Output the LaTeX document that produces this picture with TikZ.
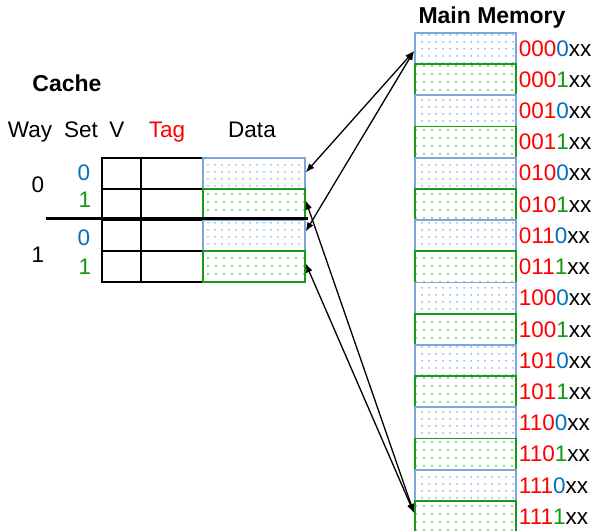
\documentclass[tikz,border=0pt]{standalone}
\usepackage{fontspec}
\setmainfont{Liberation Sans}
\usetikzlibrary{patterns.meta,arrows.meta}
\definecolor{mblue}{HTML}{7EA6D8}
\definecolor{dblue}{HTML}{4F8FD0}
\definecolor{mgreen}{HTML}{1A9A1A}
\definecolor{dgreen}{HTML}{22AA22}
\definecolor{tblue}{HTML}{0070C0}
\definecolor{tgreen}{HTML}{119911}
\definecolor{tred}{HTML}{FF0000}
\begin{document}
\begin{tikzpicture}[x=1pt,y=-1pt,
  every node/.style={font=\fontsize{22.5}{26}\selectfont},
  cellbase/.style={line width=1.7pt, inner sep=0pt, anchor=north west, minimum height=31.2pt},
  bluecell/.style={cellbase, draw=mblue, pattern={Dots[distance=6.5pt,radius=0.85pt]}, pattern color=dblue, minimum width=101pt},
  greencell/.style={cellbase, draw=mgreen, pattern={Dots[distance=8pt,radius=0.85pt]}, pattern color=dgreen, minimum width=101pt},
  gridcell/.style={draw=black, line width=1.5pt, inner sep=0pt, anchor=north west, minimum height=31pt},
  memlabel/.style={anchor=west, inner sep=0pt},
  hdr/.style={inner sep=0pt, anchor=center},
  hbase/.style={inner sep=0pt, anchor=base},
  title/.style={inner sep=0pt, anchor=center, font=\fontsize{23}{27}\selectfont\bfseries},
  arr/.style={{Latex[length=9pt,width=7pt]}-{Latex[length=9pt,width=7pt]}, line width=1.3pt}
]
\useasboundingbox (0,0) rectangle (594,530);

% titles
\node[title] (cachetitle) at (67,83) {Cache};
\node[title] (memtitle) at (492,18) {Main Memory};

% header
\node[hbase] (hway) at (30,137) {Way};
\node[hbase] (hset) at (81,137) {Set};
\node[hbase] (hv) at (117,137) {V};
\node[hbase, text=tred] (htag) at (167,137) {Tag};
\node[hbase] (hdata) at (252,137) {Data};

% way / set labels
\node[hdr] (w0) at (38,185) {0};
\node[hdr] (w1) at (38,255) {1};
\node[hdr, text=tblue] (s00) at (84,173) {0};
\node[hdr, text=tgreen] (s01) at (85,200) {1};
\node[hdr, text=tblue] (s10) at (84,238) {0};
\node[hdr, text=tgreen] (s11) at (85,267) {1};

% cache grid
\foreach \i/\y in {0/157,1/188,2/219,3/250}{
  \node[gridcell, minimum width=39pt] (v\i) at (101,\y) {};
  \node[gridcell, minimum width=62pt] (t\i) at (140,\y) {};
}
\node[bluecell, minimum width=102pt] (d0) at (202,157) {};
\node[greencell, minimum width=102pt] (d1) at (202,188) {};
\node[bluecell, minimum width=102pt] (d2) at (202,219) {};
\node[greencell, minimum width=102pt] (d3) at (202,250) {};

% way separator
\coordinate (sepL) at (46,218);
\coordinate (sepR) at (308,218);
\draw[line width=3pt] (sepL) -- (sepR);

% main memory
\foreach \i in {0,...,14}{
  \pgfmathsetmacro{\yy}{32+31.2*\i}
  \pgfmathtruncatemacro{\odd}{mod(\i,2)}
  \ifnum\odd=0
    \node[bluecell] (m\i) at (414,\yy) {};
  \else
    \node[greencell] (m\i) at (414,\yy) {};
  \fi
}
\node[greencell, minimum height=36pt] (m15) at (414,500) {};
\newcommand{\ml}[3]{\node[memlabel] (l#1) at ([xshift=2pt]m#1.east) {\textcolor{tred}{#2}#3xx};}
\ml{0}{000}{\textcolor{tblue}{0}}
\ml{1}{000}{\textcolor{tgreen}{1}}
\ml{2}{001}{\textcolor{tblue}{0}}
\ml{3}{001}{\textcolor{tgreen}{1}}
\ml{4}{010}{\textcolor{tblue}{0}}
\ml{5}{010}{\textcolor{tgreen}{1}}
\ml{6}{011}{\textcolor{tblue}{0}}
\ml{7}{011}{\textcolor{tgreen}{1}}
\ml{8}{100}{\textcolor{tblue}{0}}
\ml{9}{100}{\textcolor{tgreen}{1}}
\ml{10}{101}{\textcolor{tblue}{0}}
\ml{11}{101}{\textcolor{tgreen}{1}}
\ml{12}{110}{\textcolor{tblue}{0}}
\ml{13}{110}{\textcolor{tgreen}{1}}
\ml{14}{111}{\textcolor{tblue}{0}}
\node[memlabel] (l15) at ([yshift=-31.2pt]l14.west) {\textcolor{tred}{111}\textcolor{tgreen}{1}xx};

% arrows
\coordinate (mtop) at ([yshift=-19pt]m0.north west);
\coordinate (mbot) at ([yshift=-13pt]m15.north west);
\draw[arr] (mtop) -- ([yshift=1pt]d0.east);
\draw[arr] (mtop) -- ([yshift=4pt]d2.east);
\draw[arr] (mbot) -- ([yshift=4pt]d1.east);
\draw[arr] (mbot) -- ([yshift=3pt]d3.east);
\end{tikzpicture}
\end{document}
